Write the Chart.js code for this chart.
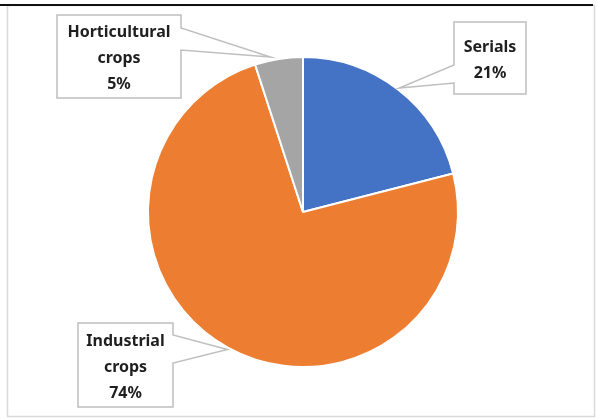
<!DOCTYPE html>
<html>
<head>
<meta charset="utf-8">
<script src="https://cdn.jsdelivr.net/npm/chart.js@4.4.1/dist/chart.umd.min.js"></script>
<style>
  html, body { margin: 0; padding: 0; background: #ffffff; }
  #wrap { width: 597px; height: 419px; position: relative; }
</style>
</head>
<body>
<div id="wrap"><canvas id="chart" width="597" height="419"></canvas></div>
<script>
// Crop groups and their shares (%)
const categories = ['Serials', 'Industrial crops', 'Horticultural crops'];
const shares = [21, 74, 5];
const sliceColors = ['#4472C4', '#ED7D31', '#A5A5A5'];

// Callout boxes: rectangle, which side the pointer leaves from, where its base sits on that side,
// and a small sideways nudge of the pointer tip
const callouts = [
  { x: 454, y: 22,  w: 72,  h: 72, side: 'left',  b0: 65,  b1: 83,  nudge: 0 },
  { x: 78,  y: 323, w: 95,  h: 84, side: 'right', b0: 335, b1: 363, nudge: 0 },
  { x: 57,  y: 15,  w: 124, h: 83, side: 'right', b0: 28,  b1: 50,  nudge: -8 }
];

const frameAndCallouts = {
  id: 'frameAndCallouts',
  beforeDraw(chart) {
    const ctx = chart.ctx;
    ctx.save();
    ctx.fillStyle = '#ffffff';
    ctx.fillRect(0, 0, chart.width, chart.height);
    ctx.strokeStyle = '#D9D9D9';
    ctx.lineWidth = 1.5;
    ctx.strokeRect(7.5, 5.5, 587, 411);
    ctx.strokeStyle = '#111111';
    ctx.lineWidth = 2;
    ctx.beginPath();
    ctx.moveTo(0, 5);
    ctx.lineTo(593, 5);
    ctx.stroke();
    ctx.restore();
  },
  afterDatasetsDraw(chart) {
    const ctx = chart.ctx;
    const meta = chart.getDatasetMeta(0);
    const total = shares.reduce((a, b) => a + b, 0);
    ctx.save();
    meta.data.forEach((arc, i) => {
      const c = callouts[i];
      const mid = (arc.startAngle + arc.endAngle) / 2;
      const r = arc.outerRadius + 2;
      const tx = arc.x + Math.cos(mid) * r + c.nudge;
      const ty = arc.y + Math.sin(mid) * r;
      const L = c.x, R = c.x + c.w, T = c.y, B = c.y + c.h;
      ctx.beginPath();
      if (c.side === 'right') {
        ctx.moveTo(L, T); ctx.lineTo(R, T); ctx.lineTo(R, c.b0);
        ctx.lineTo(tx, ty); ctx.lineTo(R, c.b1); ctx.lineTo(R, B); ctx.lineTo(L, B);
      } else {
        ctx.moveTo(L, T); ctx.lineTo(R, T); ctx.lineTo(R, B); ctx.lineTo(L, B);
        ctx.lineTo(L, c.b1); ctx.lineTo(tx, ty); ctx.lineTo(L, c.b0);
      }
      ctx.closePath();
      ctx.fillStyle = '#ffffff';
      ctx.fill();
      ctx.strokeStyle = '#BFBFBF';
      ctx.lineWidth = 1.5;
      ctx.stroke();

      const pct = Math.round(shares[i] / total * 100) + '%';
      const lines = categories[i].split(' ').concat([pct]);
      const gap = 26;
      const cy = c.y + c.h / 2;
      ctx.fillStyle = '#1f1f1f';
      ctx.font = 'bold 16px "Noto Sans", sans-serif';
      ctx.textAlign = 'center';
      ctx.textBaseline = 'alphabetic';
      lines.forEach((t, k) => {
        const by = cy - (lines.length - 1) * gap / 2 + k * gap + 6.5;
        ctx.fillText(t, c.x + c.w / 2, by);
      });
    });
    ctx.restore();
  }
};

new Chart(document.getElementById('chart'), {
  type: 'pie',
  data: {
    labels: categories,
    datasets: [{
      data: shares,
      backgroundColor: sliceColors,
      borderColor: '#ffffff',
      borderWidth: 2
    }]
  },
  options: {
    responsive: false,
    animation: false,
    layout: { padding: { top: 56, bottom: 51, left: 147, right: 138 } },
    plugins: { legend: { display: false }, tooltip: { enabled: false } }
  },
  plugins: [frameAndCallouts]
});
</script>
</body>
</html>
